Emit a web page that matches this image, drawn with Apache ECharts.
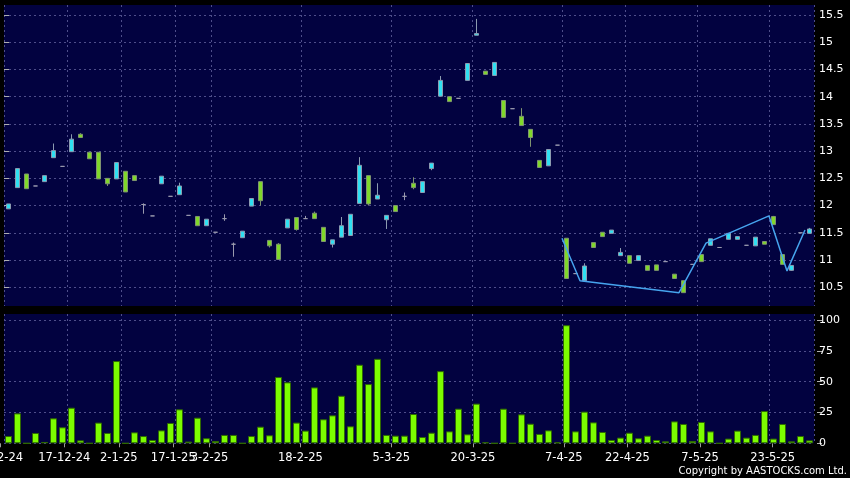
<!DOCTYPE html>
<html>
<head>
<meta charset="utf-8">
<script src="https://cdn.jsdelivr.net/npm/echarts@6/dist/echarts.min.js"></script>
<style>
html,body{margin:0;padding:0;background:#000;}
#chart{width:850px;height:478px;}
</style>
</head>
<body>
<div id="chart"></div>
<script>
// ---- data ----
const openP = [11.94,12.33,12.58,12.36,12.44,12.88,12.72,12.99,13.31,12.98,
12.98,12.50,12.49,12.63,12.55,12.02,11.81,12.40,12.17,12.20,
11.82,11.80,11.63,11.51,11.76,11.29,11.41,11.99,12.44,11.36,
11.29,11.59,11.78,11.76,11.86,11.60,11.29,11.42,11.45,12.04,
12.55,12.12,11.74,12.00,12.17,12.41,12.24,12.68,14.01,14.00,
13.97,14.30,15.13,14.47,14.39,13.93,13.78,13.64,13.40,12.83,
12.73,13.11,11.40,10.75,10.62,11.32,11.51,11.49,11.08,11.08,
10.99,10.90,10.91,10.97,10.74,10.62,10.92,11.10,11.27,11.23,
11.38,11.38,11.27,11.26,11.34,11.80,11.10,10.81,11.50,11.49];
const closeP = [12.03,12.68,12.31,12.36,12.55,13.01,12.72,13.22,13.25,12.86,
12.49,12.40,12.79,12.25,12.46,12.02,11.81,12.54,12.17,12.36,
11.82,11.63,11.75,11.51,11.76,11.29,11.53,12.13,12.09,11.26,
11.01,11.75,11.56,11.76,11.76,11.34,11.37,11.63,11.84,12.74,
12.03,12.19,11.82,11.89,12.17,12.33,12.44,12.78,14.30,13.91,
13.97,14.61,15.16,14.41,14.63,13.62,13.78,13.47,13.25,12.70,
13.03,13.11,10.66,10.75,10.89,11.23,11.43,11.55,11.14,10.94,
11.08,10.81,10.81,10.97,10.66,10.40,10.92,10.97,11.39,11.23,
11.49,11.43,11.27,11.42,11.29,11.65,10.92,10.90,11.50,11.57];
const lowP = [11.94,12.33,12.31,12.36,12.44,12.88,12.72,12.99,13.25,12.86,
12.49,12.36,12.49,12.25,12.46,11.85,11.81,12.40,12.17,12.20,
11.82,11.63,11.63,11.51,11.72,11.06,11.41,11.99,12.00,11.23,
11.01,11.59,11.54,11.76,11.76,11.34,11.23,11.42,11.45,12.04,
12.00,12.12,11.57,11.89,12.10,12.30,12.24,12.65,14.01,13.91,
13.97,14.30,15.13,14.41,14.39,13.62,13.78,13.47,13.08,12.70,
12.73,13.11,10.66,10.75,10.62,11.23,11.43,11.49,11.08,10.94,
10.99,10.81,10.81,10.97,10.66,10.40,10.92,10.97,11.27,11.23,
11.38,11.38,11.27,11.26,11.29,11.65,10.92,10.80,11.50,11.49];
const highP = [12.03,12.68,12.58,12.36,12.55,13.14,12.72,13.31,13.33,12.98,
12.98,12.50,12.79,12.63,12.55,12.04,11.81,12.54,12.17,12.42,
11.82,11.80,11.75,11.51,11.84,11.32,11.53,12.13,12.44,11.36,
11.31,11.75,11.78,11.81,11.89,11.60,11.37,11.79,11.84,12.89,
12.55,12.41,11.82,12.00,12.24,12.52,12.44,12.78,14.38,14.00,
13.97,14.61,15.43,14.47,14.63,13.93,13.78,13.79,13.40,12.83,
13.03,13.11,11.40,10.75,10.94,11.32,11.51,11.55,11.22,11.08,
11.08,10.90,10.91,10.97,10.74,10.62,10.92,11.10,11.39,11.23,
11.49,11.43,11.27,11.42,11.34,11.81,11.10,10.90,11.50,11.59];
const volume = [5.9,24.3,0,8.4,1.1,20.3,13.0,28.9,2.4,0,
16.8,8.4,66.8,0,8.9,5.9,2.7,10.5,16.5,27.6,
1.4,20.8,4.1,1.9,6.8,6.8,0,5.9,13.5,6.5,
53.8,49.5,16.8,10.3,45.4,19.5,22.7,38.6,13.8,63.8,
48.1,68.6,6.8,6.2,6.2,23.8,5.1,8.6,58.6,9.7,
28.1,7.3,32.2,0.8,0,28.1,0,23.5,15.9,7.6,
10.5,0.8,95.9,9.7,25.7,17.0,9.2,2.7,4.6,8.6,
4.1,6.2,2.7,1.6,17.8,15.7,1.9,17.3,9.7,0,
3.8,10.3,4.6,6.8,26.2,3.8,15.7,1.6,5.9,2.4];
const zigzagIdx = [62,64,75,78,85,87,89];
const zigzagVal = [11.40,10.62,10.40,11.31,11.81,10.80,11.55];
const tickIdx = [0,7,13,19,23,33,43,52,62,69,77,85];
const tickLabels = ['2-12-24','17-12-24','2-1-25','17-1-25','3-2-25','18-2-25','5-3-25','20-3-25','7-4-25','22-4-25','7-5-25','23-5-25'];
const priceTicks = [10.5,11,11.5,12,12.5,13,13.5,14,14.5,15,15.5];
const volumeTicks = [0,25,50,75,100];
const categories = openP.map((_, i) => 'd' + i);
const labelSlots = Array.from({length: categories.length + 1}, (_, i) => String(i));

// ---- chart ----
const chart = echarts.init(document.getElementById('chart'), null, {renderer: 'canvas'});
const candleData = openP.map((o, i) => [o, closeP[i], lowP[i], highP[i]]);
const zigzag = zigzagIdx.map((x, i) => [x, zigzagVal[i]]);
const gridLine = {color: '#4e4e8a', width: 1, type: [2, 3]};
const isTick = (i) => tickIdx.indexOf(i) >= 0;
const font = 'DejaVu Sans';
const navy = '#020240';

const option = {
  backgroundColor: '#000000',
  animation: false,
  grid: [
    {left: 4, right: 36, top: 5, height: 301, show: true, backgroundColor: navy, borderWidth: 0, containLabel: false, outerBoundsMode: 'none'},
    {left: 4, right: 36, top: 314, height: 129.3, show: true, backgroundColor: navy, borderWidth: 0, containLabel: false, outerBoundsMode: 'none'},
    {left: 0.7, width: 817.4, top: 314, height: 129.3, show: false, containLabel: false, outerBoundsMode: 'none'}
  ],
  xAxis: [
    {type: 'category', gridIndex: 0, data: categories, boundaryGap: true,
     axisLine: {show: false}, axisTick: {show: false}, axisLabel: {show: false},
     splitLine: {show: true, interval: (i) => isTick(i), lineStyle: gridLine}},
    {type: 'category', gridIndex: 1, data: categories, boundaryGap: true,
     axisLine: {show: false}, axisTick: {show: false}, axisLabel: {show: false},
     splitLine: {show: true, interval: (i) => isTick(i), lineStyle: gridLine}},
    {type: 'category', gridIndex: 2, data: labelSlots, boundaryGap: false,
     axisLine: {show: false},
     axisTick: {show: true, interval: (i) => isTick(i), length: 4, lineStyle: {color: '#9a9a9a'}},
     axisLabel: {show: true, interval: (i) => isTick(i), margin: 9, color: '#ffffff', fontSize: 11.5, fontFamily: font,
       alignMinLabel: 'center', alignMaxLabel: 'center', hideOverlap: false,
       formatter: (v) => { const k = tickIdx.indexOf(Number(v)); return k >= 0 ? tickLabels[k] : ''; }},
     splitLine: {show: false}},
    {type: 'value', gridIndex: 0, min: 0, max: categories.length, show: false}
  ],
  yAxis: [
    {type: 'value', gridIndex: 0, position: 'right', min: 10.155, max: 15.685, offset: 3, scale: true,
     axisLine: {show: false},
     axisTick: {show: true, customValues: priceTicks, length: 5, lineStyle: {color: '#b0b0b0'}},
     axisLabel: {show: true, customValues: priceTicks, margin: 2, color: '#ffffff', fontSize: 11, fontFamily: font},
     splitLine: {show: true, lineStyle: gridLine}},
    {type: 'value', gridIndex: 1, position: 'right', min: 0, max: 105, offset: 3,
     axisLine: {show: false},
     axisTick: {show: true, customValues: volumeTicks, length: 5, lineStyle: {color: '#b0b0b0'}},
     axisLabel: {show: true, customValues: volumeTicks, margin: 2, color: '#ffffff', fontSize: 11, fontFamily: font},
     splitLine: {show: true, lineStyle: gridLine}},
    {type: 'value', gridIndex: 2, show: false}
  ],
  series: [
    {type: 'candlestick', xAxisIndex: 0, yAxisIndex: 0, data: candleData, barWidth: 5,
     itemStyle: {color: '#2fe0f2', color0: '#80d82a', borderColor: '#8c9bb0', borderColor0: '#7f9470',
       borderColorDoji: '#9a9aae', borderWidth: 1}},
    {type: 'bar', xAxisIndex: 1, yAxisIndex: 1, data: volume, barWidth: 7,
     itemStyle: {color: '#7cfc00', borderColor: '#2f6a00', borderWidth: 1}},
    {type: 'line', xAxisIndex: 3, yAxisIndex: 0, data: zigzag, symbol: 'none',
     lineStyle: {color: '#46a4ee', width: 1.5}, z: 3}
  ],
  graphic: [
    {type: 'text', right: 3, top: 466,
     style: {text: 'Copyright by AASTOCKS.com Ltd.', fill: '#ffffff', font: '10px "DejaVu Sans"'}}
  ]
};
chart.setOption(option);
</script>
</body>
</html>
